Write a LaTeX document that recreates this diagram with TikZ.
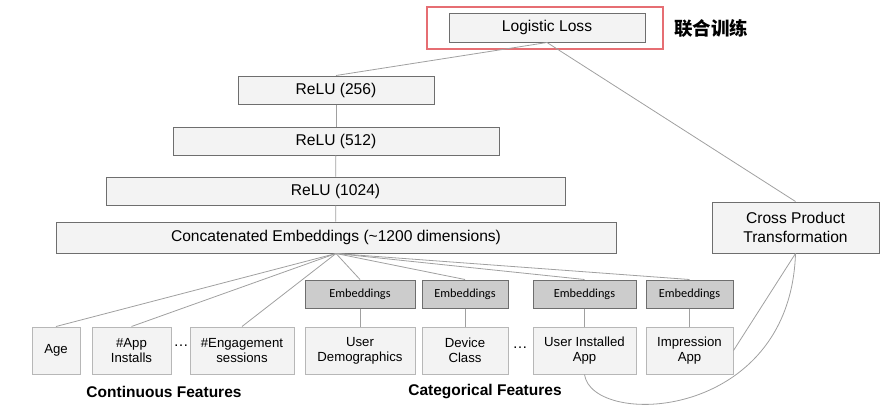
\documentclass[tikz,border=0pt]{standalone}
\usepackage{fontspec}
\setmainfont{Liberation Sans}
\newfontfamily\embfont{Carlito}
\newfontfamily\cjk{Noto Sans CJK SC}
\usetikzlibrary{positioning}
\definecolor{wdBorder}{RGB}{110,110,110}
\definecolor{wdFill}{RGB}{243,243,243}
\definecolor{wdLight}{RGB}{183,183,183}
\definecolor{wdEmb}{RGB}{204,204,204}
\definecolor{wdLine}{RGB}{160,160,160}
\definecolor{wdRed}{RGB}{230,110,115}
\tikzset{
  layerbox/.style={
    rectangle, draw=wdBorder, fill=wdFill, line width=1pt, inner sep=0pt,
    align=center, minimum height=28pt, font=\fontsize{15.6}{19.5}\selectfont},
  featbox/.style={
    layerbox, draw=wdLight, minimum height=47pt, font=\fontsize{13.2}{15}\selectfont},
  embbox/.style={
    layerbox, fill=wdEmb, font=\embfont\fontsize{12.3}{13}\selectfont},
  grouplabel/.style={font=\bfseries\fontsize{15.5}{17}\selectfont},
  link/.style={draw=wdLine, line width=0.8pt}
}
\begin{document}
\begin{tikzpicture}[x=1pt,y=-1pt]
        \useasboundingbox (0,0) rectangle (895,415);

        \node[draw=wdRed, line width=1.5pt, minimum width=236pt, minimum height=42pt, inner sep=0pt] (jointframe) at (545,28) {};
        \node[layerbox, minimum width=196pt, minimum height=29pt] (loss) at (547,27.5) {Logistic Loss};
        \node[font=\cjk\bfseries\fontsize{18.5}{20}\selectfont] (joint) at (711,28) {联合训练};

        \node[layerbox, minimum width=196pt] (relu256) at (336,90) {ReLU (256)};
        \node[layerbox, minimum width=326pt] (relu512) at (336,141) {ReLU (512)};
        \node[layerbox, minimum width=459pt] (relu1024) at (335.5,191) {ReLU (1024)};
        \node[layerbox, minimum width=560pt, minimum height=31pt] (concat) at (336,237.5) {Concatenated Embeddings (\textasciitilde1200 dimensions)};
        \node[layerbox, minimum width=167pt, minimum height=51pt] (cross) at (795.5,227.5) {Cross Product\\Transformation};

        \node[featbox, minimum width=48pt]  (age)   at (56,350.5)    {Age};
        \node[featbox, minimum width=79pt]  (app)   at (131.5,350.5) {\#App\\Installs};
        \node[featbox, minimum width=104pt] (eng)   at (242,350.5)   {\#Engagement\\sessions};
        \node[featbox, minimum width=110pt] (udemo) at (360,350.5)   {User\\Demographics};
        \node[featbox, minimum width=86pt]  (dev)   at (465,350.5)   {Device\\Class};
        \node[featbox, minimum width=103pt] (uapp)  at (584.5,350.5) {User Installed\\App};
        \node[featbox, minimum width=87pt]  (imp)   at (689.5,350.5) {Impression\\App};

        \node[embbox, minimum width=110pt, above=18pt of udemo] (embdemo) {Embeddings};
        \node[embbox, minimum width=86pt,  above=18pt of dev]   (embdev)  {Embeddings};
        \node[embbox, minimum width=103pt, above=18pt of uapp]  (embuapp) {Embeddings};
        \node[embbox, minimum width=87pt,  above=18pt of imp]   (embimp)  {Embeddings};

        \node[font=\fontsize{15}{17}\selectfont] (dotsa) at (181,346) {\dots};
        \node[font=\fontsize{15}{17}\selectfont] (dotsb) at (520,348) {\dots};

        \node[grouplabel] (contlabel) at (164,392) {Continuous Features};
        \node[grouplabel] (catlabel)  at (485,392) {Categorical Features};

        \draw[link] (loss.south) -- (relu256.north);
        \draw[link] (loss.south) -- (cross.north);
        \draw[link] (relu256) -- (relu512);
        \draw[link] (relu512) -- (relu1024);
        \draw[link] (relu1024) -- (concat);
        \foreach \f in {age,app,eng,embdemo,embdev,embuapp,embimp}
          \draw[link] (concat.south) -- (\f.north);
        \draw[link] (embdemo) -- (udemo);
        \draw[link] (embdev) -- (dev);
        \draw[link] (embuapp) -- (uapp);
        \draw[link] (embimp) -- (imp);
        \draw[link] (cross.south) -- (imp.east);
        \draw[link] (uapp.south) .. controls (592,428) and (790,422) .. (cross.south);
      \end{tikzpicture}
\end{document}
